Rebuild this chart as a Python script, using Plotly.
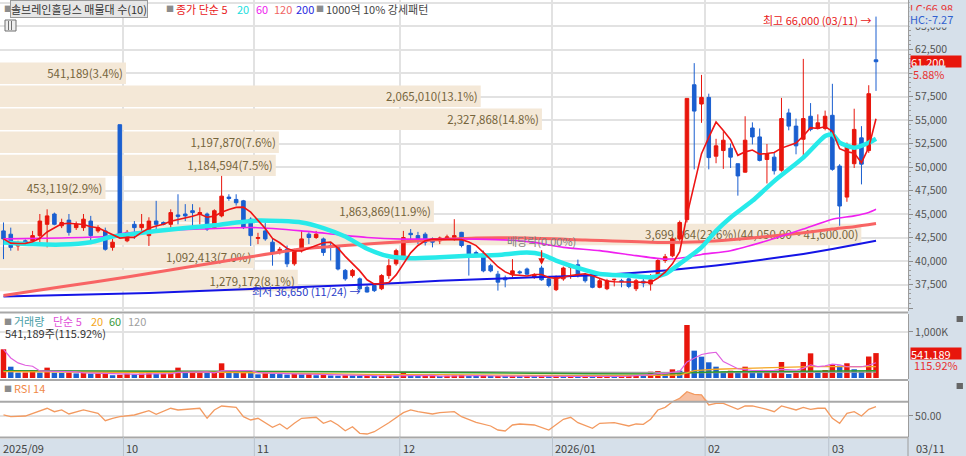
import numpy as np
import pandas as pd
import plotly.graph_objects as go

# ============================================================
# 1. DATA
# ============================================================

# KRX trading days shown (2025-09-08 .. 2026-03-11)
holidays = ["2025-10-03", "2025-10-06", "2025-10-07", "2025-10-08", "2025-10-09",
            "2025-12-25", "2025-12-31", "2026-01-01",
            "2026-02-16", "2026-02-17", "2026-02-18", "2026-03-02"]
dates = pd.bdate_range("2025-09-08", "2026-03-11", freq="C", holidays=holidays)

opens = [
    43200, 42850, 41600, 42150, 42150, 42700, 43900, 45000, 43750, 44350,
    43550, 43550, 44250, 43200, 43200, 41450, 54500, 42150, 43900, 43550,
    42700, 44250, 44100, 43900, 44900, 45000, 45350, 45000, 45000, 43550,
    44800, 46800, 46550, 46400, 44450, 42400, 43200, 42000, 40900, 41250,
    39700, 41100, 42850, 42500, 42350, 41650, 41450, 39000, 38450, 38100,
    37200, 37400, 37050, 38450, 39700, 40400, 42950, 42700, 42850, 42350,
    42150, 42450, 42500, 43050, 41650, 40900, 40750, 39500, 38600, 38200,
    38600, 38850, 39150, 38250, 39250, 38100, 36950, 38100, 39300, 39600,
    38550, 38600, 37200, 37050, 38000, 37900, 38100, 37050, 37850, 37550,
    38450, 40050, 40550, 42350, 44400, 58750, 56700, 57400, 51150, 51750,
    52000, 50350, 49450, 54150, 53200, 50800, 51050, 49650, 55750, 54350,
    52950, 55400, 54100, 54100, 55500, 50100, 46800, 50350, 53100, 51750,
    61400]
highs = [
    44100, 43550, 42150, 42300, 43200, 45000, 45500, 45150, 44500, 45000,
    44200, 45000, 44800, 43800, 43550, 42350, 54500, 43300, 44250, 45000,
    44650, 46400, 44200, 45500, 47100, 46050, 46050, 45700, 45150, 45500,
    49050, 47100, 47100, 46500, 44650, 43000, 44100, 42350, 41500, 41650,
    41300, 43200, 43050, 43200, 42500, 42000, 41500, 39150, 39150, 38250,
    37400, 37500, 38600, 40200, 41300, 43200, 43400, 43100, 43050, 42500,
    42600, 42800, 44450, 43100, 41650, 41100, 41100, 39700, 38950, 38450,
    40200, 39000, 39300, 38700, 39500, 38250, 38450, 39400, 39500, 40150,
    38700, 38800, 38100, 38100, 38100, 38100, 38250, 38100, 38450, 38600,
    40200, 40750, 42500, 44300, 57300, 61050, 59800, 57800, 53000, 53800,
    52500, 50350, 55400, 54750, 54100, 52450, 51500, 57350, 56200, 55150,
    61500, 56800, 55600, 56000, 58850, 50300, 52600, 56200, 54350, 58700,
    66000]
lows = [
    40200, 41100, 41100, 41700, 41800, 41600, 41450, 43800, 43500, 42700,
    43300, 43200, 42150, 43000, 41100, 41100, 42500, 42000, 42350, 43200,
    41600, 43200, 43800, 43550, 43900, 44250, 43550, 43900, 43200, 43400,
    44650, 46400, 45900, 43400, 41600, 41800, 42150, 39500, 40700, 39350,
    39500, 40900, 41800, 42350, 40550, 40050, 39000, 37900, 38250, 36850,
    36650, 36700, 36900, 38100, 39500, 40200, 42000, 41800, 41650, 41450,
    41800, 42300, 42150, 41450, 38450, 40400, 38800, 38800, 36850, 37200,
    38250, 38600, 38500, 38100, 37900, 37200, 36800, 37900, 38100, 38250,
    37700, 37100, 37100, 36900, 37300, 37200, 37100, 36800, 37200, 36850,
    38250, 39800, 40400, 42150, 44100, 49750, 54700, 49750, 50400, 49800,
    49900, 46950, 49400, 52400, 50600, 48250, 49200, 49500, 53900, 51350,
    50800, 53800, 54000, 53900, 49600, 43750, 46300, 49900, 48150, 51500,
    58100]
closes = [
    42350, 41450, 41800, 41900, 42700, 44250, 44800, 43900, 44100, 43050,
    43900, 44450, 42700, 43550, 41250, 42000, 42700, 43050, 43550, 43900,
    44250, 43900, 43900, 45150, 44750, 44800, 45150, 45150, 43400, 45350,
    46900, 46650, 46200, 43550, 42700, 42500, 42350, 40900, 41250, 39700,
    41100, 42350, 42500, 42850, 40900, 41450, 39150, 38100, 39000, 37050,
    36700, 36850, 38450, 39500, 41100, 42500, 42800, 42350, 42000, 42000,
    42450, 42550, 42700, 41650, 40750, 40550, 38950, 38950, 37750, 38000,
    38950, 38750, 38600, 38500, 38000, 37400, 38250, 39250, 39400, 38450,
    37900, 37200, 37900, 37900, 38050, 37800, 37300, 37900, 37650, 38000,
    40050, 40450, 42350, 44100, 57300, 55950, 57400, 51000, 52250, 52850,
    51050, 49050, 52850, 53200, 50700, 51400, 49600, 55150, 54350, 52250,
    55150, 54000, 54700, 55400, 49750, 45850, 52400, 54000, 50300, 57800,
    61200]
volumes = [
    624000, 246000, 116000, 120000, 170000, 118000, 225000, 115000, 110000, 118000,
    100000, 108000, 95000, 100000, 115000, 60000, 70000, 95000, 80000, 95000,
    100000, 90000, 95000, 100000, 225000, 110000, 110000, 115000, 110000, 115000,
    319000, 137000, 120000, 125000, 115000, 80000, 105000, 90000, 85000, 75000,
    95000, 80000, 85000, 60000, 80000, 55000, 50000, 60000, 55000, 45000,
    50000, 40000, 45000, 60000, 55000, 116000, 60000, 35000, 40000, 45000,
    30000, 50000, 55000, 65000, 45000, 40000, 60000, 35000, 40000, 30000,
    45000, 35000, 40000, 30000, 55000, 35000, 40000, 30000, 45000, 30000,
    35000, 30000, 40000, 45000, 30000, 35000, 60000, 65000, 60000, 137000,
    152000, 87000, 188000, 160000, 1152000, 594000, 464000, 341000, 246000, 140000,
    159000, 116000, 246000, 152000, 140000, 145000, 150000, 348000, 87000, 116000,
    348000, 536000, 152000, 174000, 304000, 270000, 320000, 190000, 140000, 466861,
    541189]

# moving averages (index, value)
ma20_x = [0, 4, 8, 12, 15, 18, 21, 25, 29, 32, 35, 38, 41, 44, 47, 50, 53, 56, 60, 64,
          68, 72, 74, 76, 79, 82, 86, 89, 91, 93, 96, 98, 100, 103, 106, 110, 113, 114,
          115, 117, 119, 120]
ma20_v = [41980, 41800, 41750, 42000, 42600, 42900, 43200, 43500, 43800, 44100, 44300,
          44250, 44100, 43500, 42600, 41300, 40500, 40300, 40400, 40550, 40650, 40900,
          40700, 40050, 39260, 38620, 38450, 38270, 38620, 39700, 41450, 43200, 44630,
          46400, 48500, 50990, 53290, 53460, 52600, 52050, 52580, 53000]
ma60_x = [0, 8, 14, 17, 22, 27, 34, 41, 46, 50, 55, 65, 70, 73, 77, 82, 87, 91, 94, 96,
          100, 105, 110, 114, 117, 119, 120]
ma60_v = [42350, 42450, 42600, 43000, 43250, 43400, 43570, 43200, 42800, 42500, 42330,
          42330, 42200, 41980, 41450, 41100, 40570, 40200, 40400, 40700, 41100, 42150,
          43400, 44450, 44800, 45160, 45500]
ma120_x = [0, 8, 17, 25, 34, 41, 50, 55, 65, 72, 80, 90, 96, 100, 105, 110, 114, 117, 120]
ma120_v = [36330, 37250, 38300, 39300, 40450, 41270, 41800, 42050, 42440, 42440, 42230,
           41980, 42050, 42250, 42600, 43000, 43400, 43650, 43990]
ma200_x = [0, 20, 34, 50, 60, 73, 82, 91, 96, 100, 105, 110, 114, 120]
ma200_v = [36220, 36600, 37030, 37500, 37900, 38270, 38520, 38980, 39350, 39700, 40210,
           40750, 41270, 42150]

# volume moving averages (index, shares)
vma20_x = [0, 10, 20, 30, 40, 50, 60, 70, 80, 90, 93, 95, 98, 102, 111, 120]
vma20_v = [138000, 130000, 116000, 125000, 95000, 80000, 75000, 60000, 50000, 55000,
           65000, 159000, 190000, 210000, 246000, 246000]
vma60_x = [0, 34, 45, 65, 80, 92, 95, 100, 120]
vma60_v = [160000, 155000, 138000, 116000, 90000, 87000, 120000, 138000, 160000]
vma120_x = [0, 40, 65, 75, 90, 100, 120]
vma120_v = [150000, 150000, 140000, 125000, 110000, 115000, 130000]

# RSI 14 (index, value)
rsi_x = [0, 1, 3, 4, 6, 7, 8, 9, 10, 11, 13, 14, 15, 16, 18, 20, 21, 23, 24, 27, 28, 29,
         30, 32, 33, 34, 35, 36, 37, 38, 39, 40, 41, 43, 44, 45, 46, 47, 48, 49, 50, 51,
         53, 55, 56, 57, 59, 60, 62, 63, 64, 65, 67, 68, 69, 70, 71, 73, 75, 77, 78, 79,
         81, 82, 84, 86, 87, 88, 89, 90, 91, 92, 93, 94, 95, 96, 97, 98, 99, 101, 102,
         103, 105, 106, 107, 108, 109, 110, 111, 112, 113, 114, 115, 116, 117, 118, 119,
         120]
rsi_v = [51.4, 49.0, 50.0, 53.8, 60.8, 56.0, 58.4, 52.8, 56.0, 58.4, 53.8, 43.4, 46.8,
         49.0, 51.4, 57.4, 52.4, 60.8, 58.4, 60.8, 46.8, 58.4, 64.0, 62.1, 49.0, 44.4,
         46.8, 40.6, 34.2, 38.8, 31.8, 39.8, 46.8, 48.2, 39.8, 43.4, 37.4, 29.4, 35.0,
         25.8, 24.8, 28.0, 40.6, 54.6, 58.4, 56.0, 52.8, 54.6, 56.0, 49.0, 45.4, 41.0,
         36.0, 30.4, 29.0, 37.4, 38.8, 37.4, 30.4, 45.4, 48.2, 40.6, 32.8, 39.8, 40.6,
         36.0, 38.8, 38.4, 45.4, 58.4, 62.1, 70.0, 74.8, 84.0, 80.3, 79.4, 65.4, 67.7,
         67.7, 59.4, 64.0, 64.0, 59.4, 56.0, 64.0, 60.8, 58.4, 62.1, 59.4, 60.8, 60.8,
         46.8, 39.8, 53.8, 56.0, 50.0, 59.4, 63.0]

# volume profile (매물대), 10 price bins
prof_low = [36700, 39150, 41600, 44050, 46500, 48950, 51400, 53850, 56300, 58750]
prof_vol = [1279172, 1092413, 3699864, 1863869, 453119, 1184594, 1197870,
            2327868, 2065010, 541189]
prof_pct = [8.1, 7.0, 23.6, 11.9, 2.9, 7.5, 7.6, 14.8, 13.1, 3.4]

div_day = "2025-12-29"   # 배당락

assert len(dates) == len(opens) == len(highs) == len(lows) == len(closes) == len(volumes)

# ============================================================
# 2. DERIVED VALUES
# ============================================================

idx = np.arange(len(dates))
ma5 = pd.Series(closes).rolling(5, min_periods=1).mean()
vma5 = pd.Series(volumes).rolling(5, min_periods=1).mean()
vol_up = [True] + [volumes[i] >= volumes[i - 1] for i in range(1, len(volumes))]

step = prof_low[1] - prof_low[0]
prof_mid = [lo + step / 2 for lo in prof_low]
prof_text = [f"{v:,}({p:.1f}%)" for v, p in zip(prof_vol, prof_pct)]
k_max = int(np.argmax(prof_vol))
prof_text[k_max] += f"({prof_low[k_max] + step:,.2f} ~ {prof_low[k_max]:,.2f})"

i_hi = int(np.argmax(highs))
i_lo = int(np.argmin(lows))
last = closes[-1]
chg = (closes[-1] / closes[-2] - 1) * 100
vchg = volumes[-1] / volumes[-2] * 100
lc = (last / lows[i_lo] - 1) * 100
hc = (last / highs[i_hi] - 1) * 100
i_div = int(np.where(dates == pd.Timestamp(div_day))[0][0])

month_start = [i for i in range(1, len(dates)) if dates[i].month != dates[i - 1].month]
grid_x = [i - 0.5 for i in month_start]

# ============================================================
# 3. STYLE / LAYOUT CONSTANTS
# ============================================================

RED = "#e8160c"
BLUE = "#1a5fd0"
GRID = "#e2e2e2"
AXIS_BG = "#d6e0ea"
SEP = "#a8a8a8"
BEIGE = "#f4e8d7"
FONT = "Noto Sans CJK KR, Noto Sans, sans-serif"

PLOT_H = 438          # plot area height in px (456 - bottom margin)
PLOT_W = 908


def py(px):
    """pixel row from top of plot area -> paper y"""
    return 1 - px / PLOT_H


def pxp(px):
    """pixel column -> paper x"""
    return px / PLOT_W


X_RANGE = [-0.48, 124.4]
Y_MAIN = [34681, 67766]
Y_VOL = [-21700, 1391000]
Y_RSI = [20.6, 98.95]

# ============================================================
# 4. FIGURE
# ============================================================

fig = go.Figure()

# volume profile bars (base subplot so they sit under everything)
fig.add_trace(go.Bar(
    x=prof_vol, y=prof_mid, orientation="h", width=step * 0.93,
    marker=dict(color=BEIGE, line=dict(width=0)),
    text=prof_text, textposition="inside", insidetextanchor="end",
    constraintext="none", textfont=dict(color="#76653c", size=11.5, family=FONT),
    xaxis="x", yaxis="y", hoverinfo="skip"))

# price moving averages
for xs, ys, color, width in [(ma200_x, ma200_v, "#1414e6", 2),
                             (ma120_x, ma120_v, "#f86464", 3),
                             (ma60_x, ma60_v, "#f020f0", 1.6),
                             (ma20_x, ma20_v, "#27eaea", 4.5)]:
    fig.add_trace(go.Scatter(x=xs, y=ys, mode="lines", xaxis="x5", yaxis="y",
                             line=dict(color=color, width=width, shape="spline", smoothing=0.6),
                             hoverinfo="skip"))

# candles
fig.add_trace(go.Candlestick(
    x=idx, open=opens, high=highs, low=lows, close=closes,
    increasing=dict(line=dict(color=RED, width=1), fillcolor=RED),
    decreasing=dict(line=dict(color=BLUE, width=1), fillcolor=BLUE),
    whiskerwidth=0, xaxis="x5", yaxis="y", hoverinfo="skip"))

fig.add_trace(go.Scatter(x=idx, y=ma5, mode="lines", xaxis="x5", yaxis="y",
                         line=dict(color="#ee1515", width=1.6), hoverinfo="skip"))

# volume
fig.add_trace(go.Bar(x=idx, y=volumes, width=0.75,
                     marker=dict(color=[RED if u else BLUE for u in vol_up], line=dict(width=0)),
                     xaxis="x2", yaxis="y2", hoverinfo="skip"))
for xs, ys, color, width in [(vma120_x, vma120_v, "#a0a0a0", 1.3),
                             (vma60_x, vma60_v, "#2f9a2f", 1.5),
                             (vma20_x, vma20_v, "#f5a623", 1.3)]:
    fig.add_trace(go.Scatter(x=xs, y=ys, mode="lines", xaxis="x2", yaxis="y2",
                             line=dict(color=color, width=width), hoverinfo="skip"))
fig.add_trace(go.Scatter(x=idx, y=vma5, mode="lines", xaxis="x2", yaxis="y2",
                         line=dict(color="#e060e0", width=1.2), hoverinfo="skip"))

# RSI with overbought fill
fig.add_trace(go.Scatter(x=rsi_x, y=[70] * len(rsi_x), mode="lines", xaxis="x3", yaxis="y3",
                         line=dict(width=0), hoverinfo="skip"))
fig.add_trace(go.Scatter(x=rsi_x, y=np.maximum(rsi_v, 70), mode="lines", fill="tonexty",
                         fillcolor="rgba(242,150,100,0.6)", xaxis="x3", yaxis="y3",
                         line=dict(width=0), hoverinfo="skip"))
fig.add_trace(go.Scatter(x=rsi_x, y=rsi_v, mode="lines", xaxis="x3", yaxis="y3",
                         line=dict(color="#f39a60", width=1.3), hoverinfo="skip"))

# ============================================================
# 5. AXES
# ============================================================

price_ticks = list(range(35000, 67501, 2500))
price_text = ["" if v in (35000, 60000, 67500) else f"{v:,}" for v in price_ticks]

yax_common = dict(side="right", showgrid=True, gridcolor=GRID, gridwidth=1.5, zeroline=False,
                  ticks="outside", ticklen=4, tickcolor="#8c8c8c", showline=True,
                  linecolor="#9c9c9c", linewidth=1, tickfont=dict(size=10.5, color="#555"),
                  fixedrange=True)
xax_common = dict(range=X_RANGE, tickvals=grid_x, showticklabels=False, showgrid=True,
                  gridcolor=GRID, gridwidth=1.5, zeroline=False, ticks="", fixedrange=True)

fig.update_layout(
    width=966, height=456,
    margin=dict(l=0, r=58, t=0, b=18),
    paper_bgcolor="white", plot_bgcolor="white",
    showlegend=False, hovermode=False,
    font=dict(family=FONT, size=11, color="#444"),
    xaxis=dict(domain=[0, 1], range=[0, PLOT_W / 0.0002328], visible=False, anchor="y",
               fixedrange=True),
    yaxis=dict(domain=[py(311), 1], range=Y_MAIN, anchor="x", tickvals=price_ticks,
               ticktext=price_text,
               minor=dict(tickmode="linear", tick0=0, dtick=500, ticks="outside", ticklen=2,
                          tickcolor="#9c9c9c", showgrid=False),
               **yax_common),
    xaxis5=dict(overlaying="x", anchor="y", rangeslider=dict(visible=False), **xax_common),
    xaxis2=dict(domain=[0, 1], anchor="y2", **xax_common),
    yaxis2=dict(domain=[py(379), py(314)], range=Y_VOL, anchor="x2", tickvals=[1000000],
                ticktext=["1,000K"], **yax_common),
    xaxis3=dict(domain=[0, 1], anchor="y3", **xax_common),
    yaxis3=dict(domain=[py(437), py(381)], range=Y_RSI, anchor="x3", tickvals=[50],
                ticktext=["50.00"], **yax_common),
)

# ============================================================
# 6. SHAPES
# ============================================================

shapes = [
    dict(type="rect", xref="paper", yref="paper", x0=1, x1=1.07, y0=-0.06, y1=1.0,
         fillcolor=AXIS_BG, line_width=0, layer="below"),
    dict(type="rect", xref="paper", yref="paper", x0=0, x1=1.07, y0=-0.06, y1=py(439),
         fillcolor=AXIS_BG, line_width=0, layer="below"),
    dict(type="line", xref="paper", yref="paper", x0=1, x1=1, y0=-0.06, y1=py(437),
         line=dict(color="#9c9c9c", width=1)),
    dict(type="line", xref="paper", yref="y3", x0=0, x1=1, y0=70, y1=70,
         line=dict(color=SEP, width=2)),
    # small chart icon top-left
    dict(type="rect", xref="paper", yref="paper", x0=pxp(5), x1=pxp(16), y0=py(31), y1=py(20),
         fillcolor="#eeeeee", line=dict(color="#707070", width=1)),
    # panel close icons
    dict(type="rect", xref="paper", yref="paper", x0=1.0535, x1=1.0605, y0=py(322), y1=py(316),
         fillcolor="#666", line_width=0),
    dict(type="rect", xref="paper", yref="paper", x0=1.0535, x1=1.0605, y0=py(389), y1=py(383),
         fillcolor="#666", line_width=0),
]
for row in (312.5, 380, 437.5):
    shapes.append(dict(type="line", xref="paper", yref="paper", x0=0, x1=1,
                       y0=py(row), y1=py(row), line=dict(color=SEP, width=2)))
for k in (8.5, 11.5):
    shapes.append(dict(type="line", xref="paper", yref="paper", x0=pxp(k), x1=pxp(k),
                       y0=py(30), y1=py(21), line=dict(color="#707070", width=1)))
for gx in grid_x:
    shapes.append(dict(type="line", xref="x3", yref="paper", x0=gx, x1=gx,
                       y0=-0.06, y1=py(437), line=dict(color="#b8c2cc", width=1)))
fig.update_layout(shapes=shapes)

# ============================================================
# 7. TEXT
# ============================================================

ann = []


def label(x, y, text, color, size=11, xref="paper", yref="paper", xanchor="left", **kw):
    ann.append(dict(x=x, y=y, xref=xref, yref=yref, text=text, showarrow=False,
                    xanchor=xanchor, yanchor="middle",
                    font=dict(color=color, size=size, family=FONT), **kw))


# price legend row
top = py(9)
label(pxp(2), top, "■", "#8c8c8c", size=8)
label(pxp(10), top, "솔브레인홀딩스 매물대 수(10)", "#333", bgcolor="#e6e6e6",
      bordercolor="#9a9a9a", borderwidth=1, borderpad=0)
label(pxp(164), top, "■", "#8c8c8c", size=8)
label(pxp(174), top, "종가 단순 5", "#e8201a")
label(pxp(235), top, "20", "#22dede")
label(pxp(254), top, "60", "#ee22ee")
label(pxp(272), top, "120", "#f06464")
label(pxp(294), top, "200", "#2828e0")
label(pxp(314), top, "■", "#8c8c8c", size=8)
label(pxp(324), top, "1000억 10% 강세패턴", "#444")

# volume legend
vtop = py(321)
label(pxp(2), vtop, "■", "#8c8c8c", size=8)
label(pxp(12), vtop, "거래량", "#4a9ea6")
label(pxp(51), vtop, "단순 5", "#e050d8")
label(pxp(89), vtop, "20", "#f5a623")
label(pxp(107), vtop, "60", "#3a9a3a")
label(pxp(126), vtop, "120", "#a0a0a0")
label(pxp(3), py(333), f"{volumes[-1]:,}주({vchg:.2f}%)", "#333")

# RSI legend
label(pxp(2), py(388), "■", "#8c8c8c", size=8)
label(pxp(12), py(388), "RSI 14", "#f08848")

# right-axis badges
label(1.001, py(8), f"LC:{lc:.2f}", "#e83030", bgcolor=AXIS_BG, borderpad=0)
label(1.001, py(19), f"HC:{hc:.2f}", "#3060d0", bgcolor=AXIS_BG, borderpad=0)
label(1.0, last, f"{last:,}", "white", yref="y", bgcolor=RED, width=50, height=11,
      align="left", borderpad=0, xshift=2)
label(1.0, last, f"{chg:.2f}%", "#e83030", yref="y", yshift=-12, xshift=4,
      bgcolor=AXIS_BG, borderpad=0)
label(1.0, volumes[-1], f"{volumes[-1]:,}", "white", yref="y2", bgcolor=RED, width=50,
      height=11, align="left", borderpad=0, xshift=2)
label(1.0, volumes[-1], f"{vchg:.2f}%", "#e83030", yref="y2", yshift=-12, xshift=4)

# high / low markers
label(i_hi, highs[i_hi], f"최고 {highs[i_hi]:,} ({dates[i_hi]:%m/%d}) →", "#e82020",
      xref="x5", yref="y", xanchor="right", xshift=-3, yshift=-3)
label(i_lo, lows[i_lo], f"최저 {lows[i_lo]:,} ({dates[i_lo]:%m/%d}) →", "#2a3cc8",
      xref="x5", yref="y", xanchor="right", xshift=-5, yshift=1)

# ex-dividend marker
ann.append(dict(x=i_div, y=highs[i_div], xref="x5", yref="y", text="배당락(0.00%)",
                showarrow=True, ax=0, ay=-25, arrowhead=2, arrowsize=1, arrowwidth=1.3,
                arrowcolor=RED, standoff=1, font=dict(color="#808080", size=11, family=FONT)))

# date strip
date_y = py(448)
label(X_RANGE[0], date_y, f"{dates[0]:%Y/%m}", "#444", xref="x3", xshift=1)
for i in month_start:
    txt = f"{dates[i]:%Y/%m}" if dates[i].month == 1 else f"{dates[i]:%m}"
    label(i - 0.5, date_y, txt, "#444", xref="x3", xshift=1)
label(1.0, date_y, f"{dates[-1]:%m/%d}", "#444", xshift=6)

fig.update_layout(annotations=ann)

# the browser adds an 8px body margin; remove it so the chart fills the window
fig.write_html("out.html", config={"displayModeBar": False},
               post_script="document.body.style.margin='0';")
